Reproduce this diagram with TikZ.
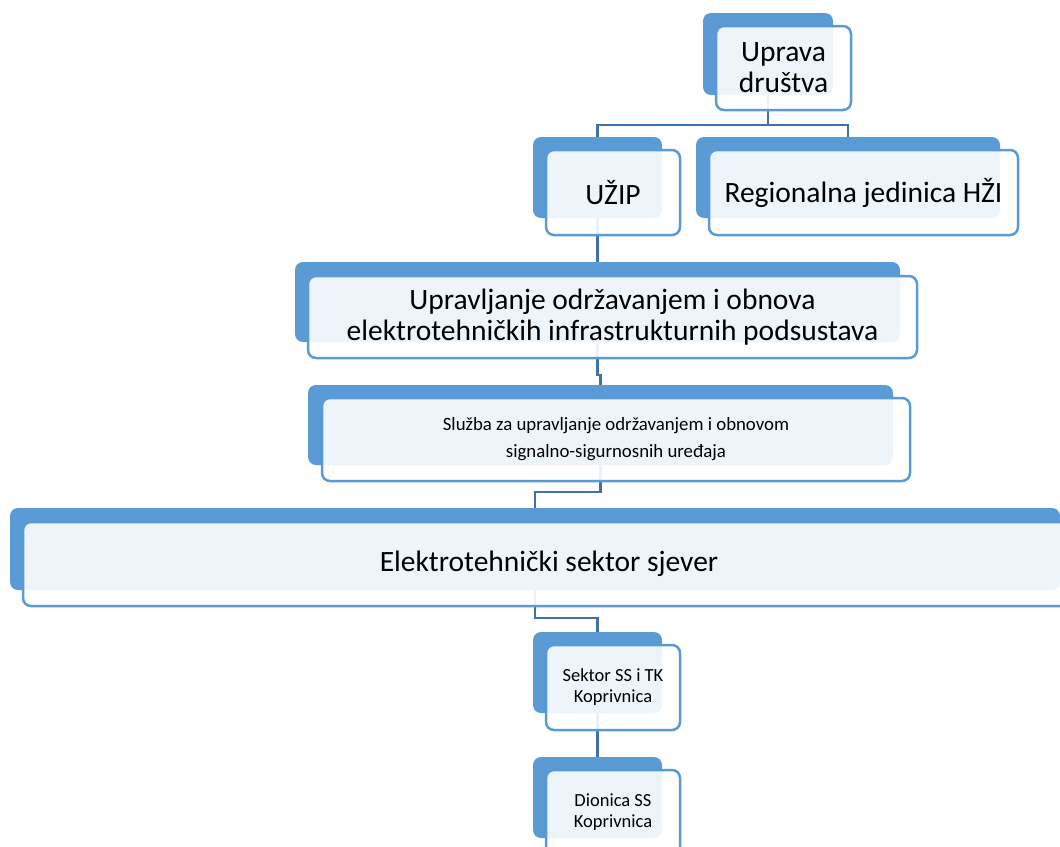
\documentclass[tikz,border=0pt]{standalone}
\usepackage{fontspec}
\setmainfont{Carlito}
\usepackage{tikz}
\definecolor{hzblue}{RGB}{91,155,213}
\definecolor{hzline}{RGB}{65,113,170}
\tikzset{
    common/.style={rectangle, rounded corners=8pt, anchor=center, inner sep=0pt},
    back/.style={common, fill=hzblue},
    front/.style={common, draw=hzblue, line width=2.5pt, fill=white, fill opacity=0.9, text opacity=1, align=center},
    conn/.style={draw=hzline, line width=2.5pt},
    bigtext/.style={font=\fontsize{29.5}{31}\selectfont},
    midtext/.style={font=\fontsize{18.8}{27}\selectfont},
    smalltext/.style={font=\fontsize{18.5}{21}\selectfont}
}
\begin{document}
\begin{tikzpicture}[x=1pt, y=-1pt]
    \useasboundingbox (0,0) rectangle (1060,846);
    \clip (0,0) rectangle (1060,846);

    % back shapes
    \node[back, minimum width=130, minimum height=82] (upravaB) at (768,54) {};
    \node[back, minimum width=129, minimum height=81] (uzipB) at (597.5,177.5) {};
    \node[back, minimum width=304, minimum height=81] (hziB) at (848,177.5) {};
    \node[back, minimum width=605, minimum height=80] (odrzB) at (597.5,302) {};
    \node[back, minimum width=585, minimum height=80] (sluzbaB) at (600.5,425) {};
    \node[back, minimum width=1050, minimum height=82] (sektorB) at (535,549) {};
    \node[back, minimum width=129, minimum height=81] (sstkB) at (597.5,672.5) {};
    \node[back, minimum width=129, minimum height=81] (dionicaB) at (597.5,797.5) {};

    % connectors
    \draw[conn] (upravaB.south) -- ++(0,30) -| (uzipB.north);
    \draw[conn] (upravaB.south) -- ++(0,30) -| (hziB.north);
    \draw[conn] (uzipB.south) -- (odrzB.north);
    \draw[conn] (odrzB.south) -- ++(0,33) -| (sluzbaB.north);
    \draw[conn] (sluzbaB.south) -- ++(0,27) -| (sektorB.north);
    \draw[conn] (sektorB.south) -- ++(0,28) -| (sstkB.north);
    \draw[conn] (sstkB.south) -- (dionicaB.north);

    % front shapes with text
    \node[front, bigtext, minimum width=135, minimum height=84] (uprava) at (783.5,68) {Uprava\\društva};
    \node[front, bigtext, minimum width=134, minimum height=85] (uzip) at (613,192.5) {UŽIP};
    \node[front, bigtext, minimum width=309, minimum height=85] (hzi) at (863.5,192.5) {Regionalna jedinica HŽI};
    \node[front, bigtext, minimum width=609, minimum height=82] (odrz) at (612.5,317) {Upravljanje održavanjem i obnova\\elektrotehničkih infrastrukturnih podsustava};
    \node[front, midtext, minimum width=588, minimum height=83] (sluzba) at (616,439.5) {Služba za upravljanje održavanjem i obnovom\\signalno-sigurnosnih uređaja};
    \node[front, bigtext, minimum width=1052, minimum height=84] (sektor) at (549,564) {Elektrotehnički sektor sjever};
    \node[front, smalltext, minimum width=134, minimum height=85] (sstk) at (613,687.5) {Sektor SS i TK\\Koprivnica};
    \node[front, smalltext, minimum width=134, minimum height=85] (dionica) at (613,812.5) {Dionica SS\\Koprivnica};
\end{tikzpicture}
\end{document}
